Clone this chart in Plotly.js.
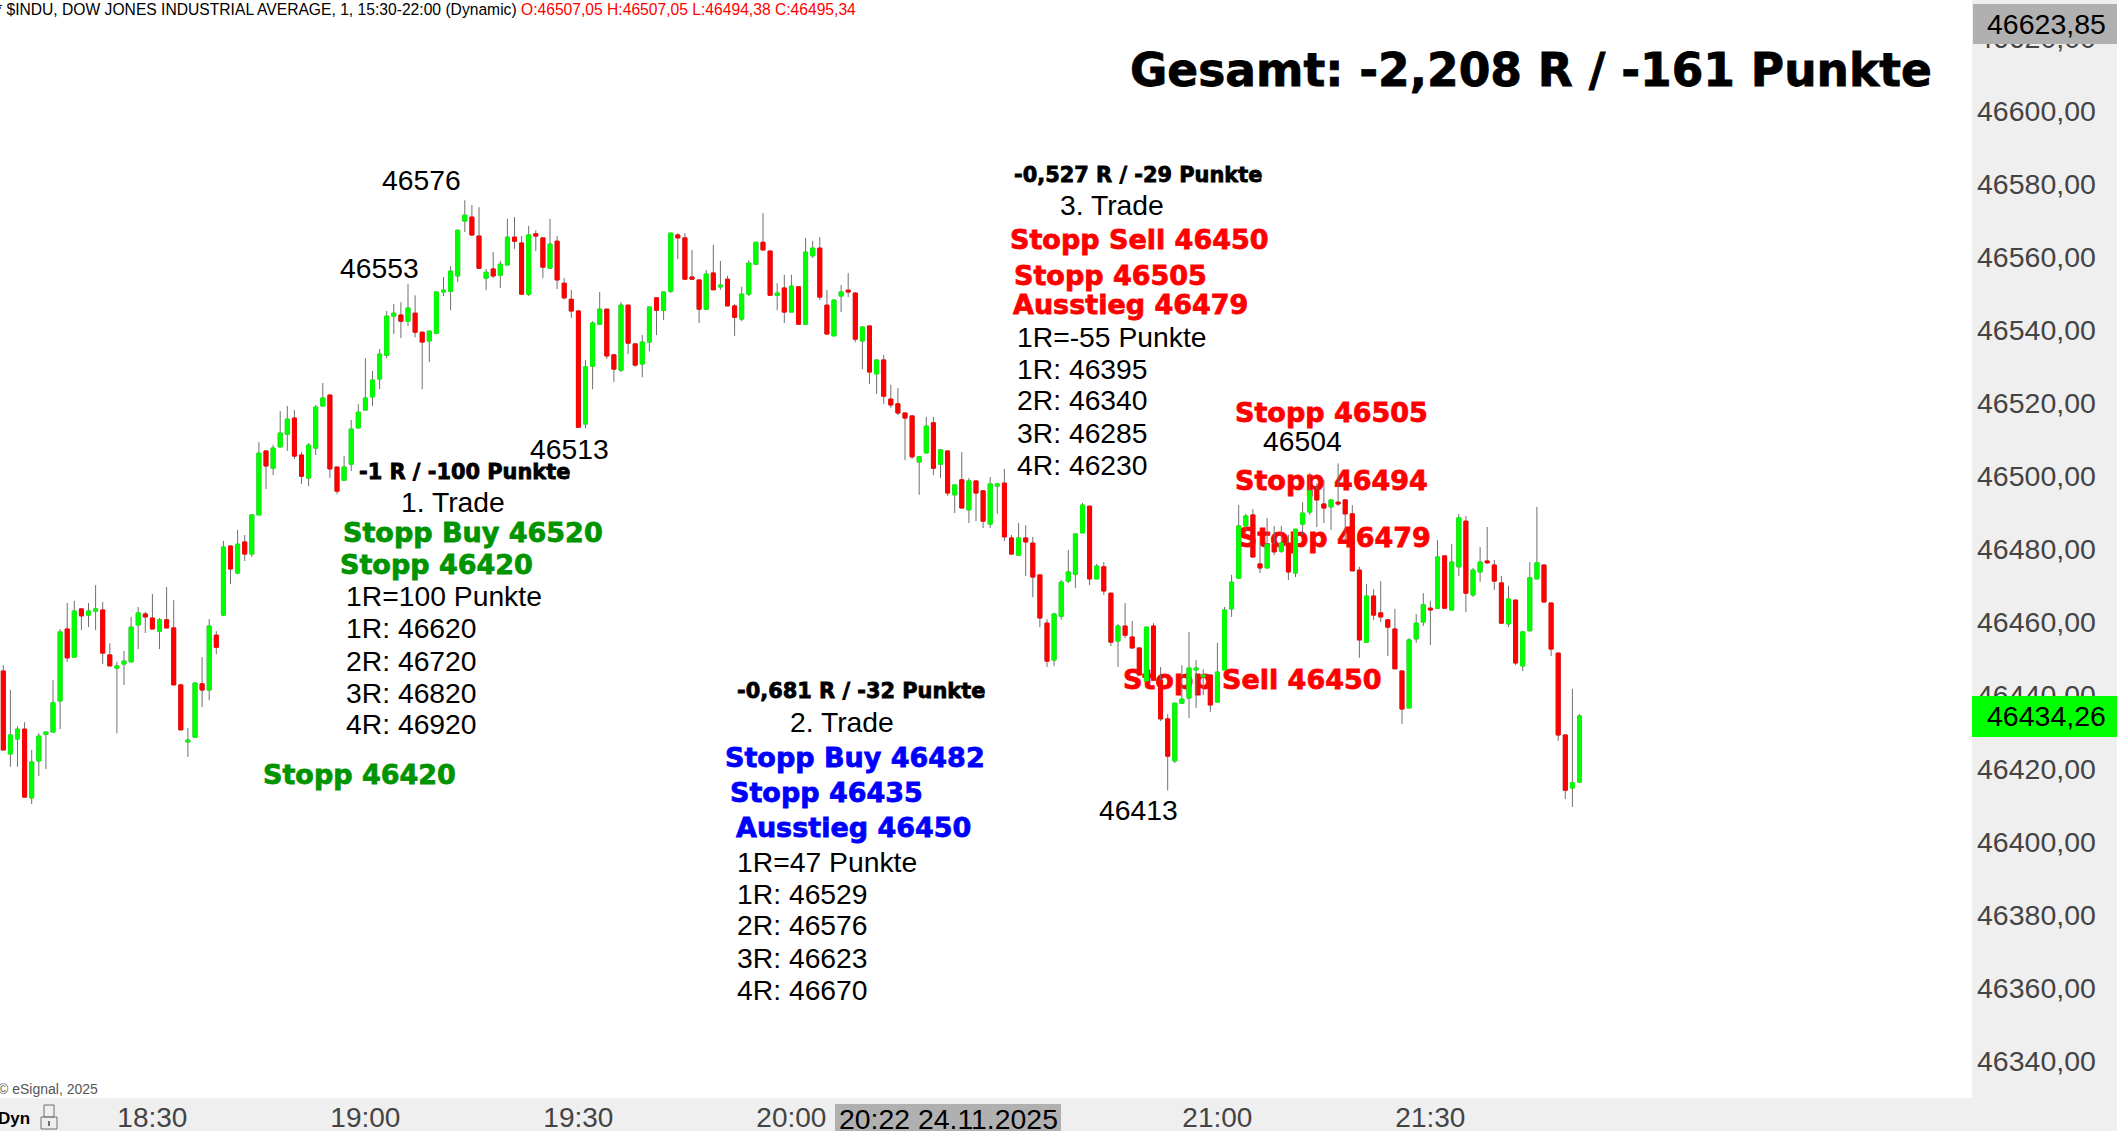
<!DOCTYPE html>
<html><head><meta charset="utf-8">
<script src="https://cdn.plot.ly/plotly-3.0.1.min.js"></script>
<style>html,body{margin:0;padding:0;background:#fff;overflow:hidden}#c{width:2117px;height:1131px}</style>
</head><body><div id="c"></div>
<script>
const opens=[46446.7,46424.0,46428.1,46430.8,46412.0,46422.1,46429.4,46430.0,46438.5,46458.2,46450.5,46463.7,46462.0,46463.1,46463.4,46451.1,46447.5,46448.6,46449.2,46459.3,46462.3,46461.2,46457.6,46460.7,46458.5,46442.9,46427.3,46428.6,46443.2,46441.5,46456.5,46462.0,46480.9,46473.5,46482.0,46478.7,46489.4,46506.9,46502.2,46508.0,46511.5,46515.9,46505.8,46499.5,46507.7,46519.2,46522.2,46502.5,46498.9,46503.3,46513.2,46518.1,46521.7,46526.6,46533.1,46543.8,46544.1,46542.4,46544.6,46539.4,46537.0,46539.1,46550.4,46550.6,46554.8,46569.8,46570.9,46565.7,46554.2,46556.7,46555.0,46557.8,46565.4,46563.8,46549.8,46566.3,46565.2,46556.9,46564.3,46552.8,46548.4,46545.2,46514.3,46530.1,46541.6,46545.7,46533.2,46529.0,46546.8,46536.2,46530.7,46536.7,46548.8,46545.4,46550.6,46566.0,46565.2,46554.5,46553.7,46545.7,46555.6,46551.8,46553.9,46546.6,46543.0,46549.8,46558.0,46564.0,46561.6,46549.5,46551.5,46544.9,46551.8,46541.6,46560.3,46562.4,46546.8,46538.4,46549.3,46550.9,46550.1,46537.0,46541.1,46528.0,46531.8,46521.1,46519.8,46517.3,46516.5,46503.9,46506.4,46514.6,46503.3,46506.9,46494.9,46499.0,46490.8,46498.7,46496.0,46486.9,46497.3,46498.1,46483.1,46478.4,46483.1,46481.7,46473.0,46459.8,46449.7,46461.7,46471.3,46473.2,46484.5,46491.8,46471.9,46475.2,46468.0,46454.9,46459.0,46456.0,46453.0,46444.0,46459.0,46444.2,46433.6,46422.1,46437.9,46439.3,46447.0,46445.1,46445.6,46438.2,46447.0,46463.7,46472.1,46486.4,46489.4,46476.0,46474.9,46481.4,46479.5,46481.7,46473.5,46486.9,46490.2,46496.2,46492.4,46491.6,46492.9,46493.5,46489.7,46474.3,46454.6,46467.2,46462.6,46460.7,46458.2,46446.7,46436.6,46455.5,46460.1,46463.9,46463.9,46478.2,46463.4,46475.2,46487.7,46467.5,46473.8,46476.8,46475.7,46470.8,46459.6,46466.1,46448.1,46457.7,46471.9,46475.7,46465.3,46451.6,46429.2,46414.7,46416.3];
const highs=[46448.3,46441.5,46431.6,46432.7,46425.1,46429.7,46430.0,46444.2,46458.2,46465.3,46465.9,46463.7,46465.3,46470.2,46465.6,46454.3,46449.2,46452.2,46461.5,46464.2,46462.9,46467.8,46461.2,46469.7,46466.1,46443.2,46431.1,46443.7,46450.5,46460.9,46457.6,46482.3,46480.9,46485.3,46483.9,46489.6,46509.3,46506.9,46508.5,46517.8,46519.2,46518.1,46506.6,46509.1,46519.5,46525.5,46522.2,46502.5,46505.5,46515.4,46519.7,46532.3,46528.8,46534.8,46545.2,46547.1,46547.6,46552.6,46549.5,46539.4,46539.7,46550.6,46554.5,46557.5,46567.3,46575.5,46574.2,46573.6,46556.7,46561.3,46558.9,46570.4,46570.9,46565.7,46568.5,46567.3,46565.2,46570.4,46565.7,46554.2,46551.0,46545.4,46531.8,46542.4,46550.4,46545.7,46533.2,46547.7,46546.8,46536.2,46538.6,46546.3,46548.8,46550.4,46566.5,46566.5,46566.5,46561.9,46553.7,46556.4,46563.3,46558.9,46554.8,46547.1,46551.8,46559.1,46564.0,46572.0,46561.6,46552.8,46555.1,46555.1,46552.0,46565.2,46564.4,46565.4,46550.9,46548.2,46552.3,46555.6,46550.4,46541.1,46541.1,46531.8,46533.2,46525.0,46524.1,46517.3,46516.5,46505.3,46516.2,46516.2,46507.2,46506.9,46497.6,46506.6,46499.5,46498.7,46496.0,46499.8,46498.1,46502.0,46483.9,46487.2,46486.6,46483.4,46473.0,46460.9,46462.6,46471.6,46479.8,46484.2,46492.7,46491.8,46476.0,46476.5,46468.0,46459.6,46465.3,46460.4,46453.0,46458.7,46459.8,46447.8,46434.9,46437.9,46448.3,46457.4,46449.7,46447.2,46445.6,46454.4,46464.2,46473.0,46492.1,46489.7,46491.0,46481.7,46488.6,46486.4,46486.4,46484.0,46485.5,46492.9,46500.9,46498.0,46499.0,46493.5,46503.5,46493.8,46492.1,46475.2,46470.5,46469.1,46471.3,46460.7,46463.7,46446.7,46455.7,46462.3,46468.0,46465.9,46482.5,46478.4,46481.5,46489.7,46489.1,46474.9,46480.6,46486.1,46477.1,46472.7,46470.0,46466.1,46457.7,46476.5,46491.6,46475.7,46465.3,46451.6,46429.2,46441.8,46434.9];
const lows=[46425.1,46420.5,46420.5,46412.0,46410.3,46418.0,46419.9,46430.0,46430.8,46449.2,46450.5,46457.9,46458.7,46457.9,46448.6,46448.1,46429.7,46442.9,46449.2,46452.7,46457.1,46458.2,46452.7,46458.5,46442.9,46430.6,46423.2,46428.6,46436.8,46438.7,46451.3,46461.7,46470.5,46473.2,46476.8,46477.9,46489.4,46496.5,46500.3,46508.0,46506.9,46504.7,46497.9,46497.3,46505.8,46519.2,46499.5,46495.1,46498.9,46501.4,46513.2,46518.1,46519.2,46523.8,46532.3,46538.9,46537.8,46541.1,46538.0,46523.8,46531.2,46539.1,46549.3,46545.4,46553.1,46566.8,46565.7,46556.7,46550.9,46554.2,46551.5,46557.8,46562.2,46549.8,46549.3,46561.6,46554.2,46556.7,46551.2,46548.4,46543.3,46513.4,46513.1,46523.8,46541.6,46532.1,46525.8,46528.5,46533.4,46529.9,46527.1,46534.2,46538.6,46542.7,46550.1,46559.4,46553.9,46553.9,46541.9,46545.7,46551.0,46551.0,46546.6,46538.4,46542.4,46549.3,46557.8,46561.9,46549.5,46545.4,46541.9,46544.9,46541.6,46541.6,46559.7,46548.2,46538.9,46538.4,46544.9,46549.0,46536.7,46529.3,46525.2,46522.5,46519.8,46518.7,46516.7,46504.4,46504.7,46494.9,46506.1,46500.3,46499.5,46494.6,46489.9,46491.3,46487.2,46487.7,46485.8,46485.8,46489.7,46482.3,46478.4,46478.4,46472.7,46466.9,46458.7,46447.8,46448.1,46460.7,46470.8,46469.4,46484.5,46470.2,46471.9,46467.5,46453.5,46447.8,46455.7,46453.0,46445.6,46444.0,46444.2,46433.0,46414.0,46421.5,46437.9,46433.8,46436.6,46440.1,46435.5,46438.2,46447.0,46461.5,46472.1,46484.0,46477.9,46473.5,46474.9,46478.4,46479.0,46471.6,46472.4,46483.9,46489.4,46486.1,46487.2,46485.3,46491.9,46482.5,46474.1,46450.3,46454.6,46460.7,46460.1,46450.8,46447.3,46432.2,46436.6,46454.4,46459.0,46453.8,46463.9,46463.9,46463.4,46472.7,46462.8,46467.0,46471.1,46476.0,46468.9,46459.6,46458.7,46448.3,46446.7,46457.7,46471.9,46465.3,46450.8,46427.6,46411.7,46409.5,46416.3];
const closes=[46425.1,46429.2,46430.8,46412.2,46421.8,46428.9,46430.0,46438.0,46457.4,46450.3,46463.1,46461.8,46463.1,46463.7,46451.6,46448.1,46448.1,46449.4,46458.7,46462.6,46461.5,46458.2,46460.7,46458.5,46442.9,46430.6,46427.8,46443.4,46441.5,46459.0,46453.2,46480.6,46474.6,46481.4,46478.7,46489.4,46506.3,46502.8,46507.7,46511.8,46515.6,46505.5,46500.0,46508.5,46518.9,46521.4,46502.0,46495.9,46502.5,46512.9,46517.5,46521.4,46526.3,46533.4,46543.8,46544.6,46542.4,46546.0,46539.4,46536.7,46539.7,46550.4,46550.9,46556.1,46567.3,46571.4,46566.0,46556.9,46555.8,46554.8,46558.0,46565.4,46564.3,46549.8,46566.0,46565.7,46557.2,46563.5,46553.7,46548.8,46545.2,46513.4,46529.9,46541.9,46545.7,46532.9,46529.3,46546.8,46536.4,46530.4,46536.7,46546.3,46545.4,46550.4,46566.5,46565.2,46553.9,46553.9,46545.7,46555.3,46551.0,46552.3,46546.6,46543.5,46549.8,46558.3,46564.0,46561.9,46549.5,46550.1,46544.9,46552.0,46541.6,46561.3,46562.4,46549.0,46538.9,46548.2,46550.4,46550.4,46537.5,46540.8,46528.5,46531.8,46521.9,46519.5,46517.3,46515.9,46505.3,46505.3,46513.7,46502.2,46507.2,46495.4,46497.6,46491.3,46498.7,46495.4,46487.7,46497.9,46497.9,46483.4,46478.7,46483.1,46482.0,46472.4,46461.2,46449.4,46462.3,46471.0,46473.8,46484.2,46492.1,46471.9,46475.4,46468.6,46454.6,46459.0,46456.5,46453.0,46445.6,46458.7,46444.2,46433.6,46423.4,46437.9,46439.0,46447.5,46447.5,46445.6,46437.4,46446.4,46463.4,46471.0,46486.4,46489.1,46477.9,46474.9,46481.4,46479.3,46481.7,46473.8,46485.5,46489.9,46496.0,46493.5,46491.3,46493.5,46492.4,46489.7,46474.1,46455.2,46467.2,46462.0,46461.5,46458.7,46447.3,46436.3,46455.2,46459.8,46464.8,46463.4,46477.9,46463.9,46476.5,46488.6,46468.0,46474.3,46476.5,46476.3,46471.3,46459.8,46466.4,46448.9,46457.4,46472.2,46476.3,46465.6,46452.7,46429.2,46414.1,46416.1,46434.4];
const timeTicks=['18:30','19:00','19:30','20:00','20:30','21:00','21:30'];
const priceTicks=[46340,46360,46380,46400,46420,46440,46460,46480,46500,46520,46540,46560,46580,46600,46620];

const labelTexts=['46576','46553','46513','46504','46413',
 '-1 R / -100 Punkte','1. Trade','Stopp Buy 46520','Stopp 46420','1R=100 Punkte','1R: 46620','2R: 46720','3R: 46820','4R: 46920','Stopp 46420',
 '-0,681 R / -32 Punkte','2. Trade','Stopp Buy 46482','Stopp 46435','Ausstieg 46450','1R=47 Punkte','1R: 46529','2R: 46576','3R: 46623','4R: 46670',
 '-0,527 R / -29 Punkte','3. Trade','Stopp Sell 46450','Stopp 46505','Ausstieg 46479','1R=-55 Punkte','1R: 46395','2R: 46340','3R: 46285','4R: 46230',
 'Stopp 46505','Stopp 46494','Stopp 46479','Stopp Sell 46450'];
const labelPx=[[382,183],[340,271],[530,452],[1263,444],[1099,813],
 [359,474],[401,505],[343,535],[340,567],[346,599],[346,631],[346,664],[346,696],[346,727],[263,777],
 [737,693],[790,725],[725,760],[730,795],[736,830],[737,865],[737,897],[737,928],[737,961],[737,993],
 [1014,177],[1060,208],[1010,242],[1014,278],[1013,307],[1017,340],[1017,372],[1017,403],[1017,436],[1017,468],
 [1235,415],[1235,483],[1238,540],[1123,682]];
const labelStyle=['n','n','n','n','n',
 's','n','g','g','n','n','n','n','n','g',
 's','n','b','b','b','n','n','n','n','n',
 's','n','r','r','r','n','n','n','n','n',
 'r','r','r','r'];
const plotW=1972, plotH=1098;
const styleMap={
 n:{family:'Liberation Sans',size:28.3,color:'#000',weight:'normal'},
 s:{family:'DejaVu Sans',size:20.9,color:'#000',weight:'bold'},
 g:{family:'DejaVu Sans',size:27,color:'#009400',weight:'bold'},
 b:{family:'DejaVu Sans',size:27,color:'#0000ff',weight:'bold'},
 r:{family:'DejaVu Sans',size:27,color:'#ff0000',weight:'bold'}};

const t0=Date.UTC(2025,10,24,18,9);
const hm=s=>{const p=s.split(':');return Date.UTC(2025,10,24,+p[0],+p[1]);};
const times=opens.map((_,i)=>t0+i*60000);
const pxToTime=px=>t0+(px-3.3)/7.1*60000;
const pyToPrice=py=>46600-(py-110.7)/3.655;
const yRange=[pyToPrice(plotH),pyToPrice(0)];
const xRange=[pxToTime(0),pxToTime(plotW)];
const xp=px=>px/plotW, yp=py=>1-py/plotH;

const fam=k=>labelStyle.map(s=>styleMap[s][k]);
const textTrace={type:'scatter',mode:'text',xaxis:'x',yaxis:'y',cliponaxis:false,hoverinfo:'skip',
 x:labelPx.map(p=>pxToTime(p[0])),y:labelPx.map(p=>pyToPrice(p[1])),text:labelTexts,textposition:'middle right',
 textfont:{family:fam('family'),size:fam('size'),color:fam('color'),weight:fam('weight')}};
const wickTrace={type:'candlestick',xaxis:'x',yaxis:'y2',x:times,open:opens,high:highs,low:lows,close:closes,whiskerwidth:0,hoverinfo:'skip',
 increasing:{line:{color:'#707070',width:1},fillcolor:'#707070'},decreasing:{line:{color:'#707070',width:1},fillcolor:'#707070'}};
const bodyTrace={type:'candlestick',xaxis:'x',yaxis:'y2',x:times,open:opens,close:closes,
 high:opens.map((o,i)=>Math.max(o,closes[i])),low:opens.map((o,i)=>Math.min(o,closes[i])),whiskerwidth:0,hoverinfo:'skip',
 increasing:{line:{color:'#00ff00',width:1},fillcolor:'#00ff00'},decreasing:{line:{color:'#ff0000',width:1},fillcolor:'#ff0000'}};

const note=(px,py,text,o)=>Object.assign({xref:'paper',yref:'paper',x:xp(px),y:yp(py),text,showarrow:false,xanchor:'left',yanchor:'middle',borderpad:0,font:{family:'Liberation Sans',size:28,color:'#000'}},o||{});
const annotations=[
 note(1129,70,'Gesamt: -2,208 R / -161 Punkte',{font:{family:'DejaVu Sans',size:45.5,color:'#000',weight:'bold'}}),
 note(-5,9,'* $INDU, DOW JONES INDUSTRIAL AVERAGE, 1, 15:30-22:00 (Dynamic) <span style="color:#ff0000">O:46507,05 H:46507,05 L:46494,38 C:46495,34</span>',{font:{family:'Liberation Sans',size:15.65,color:'#000'}}),
 note(-3,1089,'© eSignal, 2025',{font:{family:'Liberation Sans',size:14,color:'#555'}}),
 note(-3,1118,'Dyn',{font:{family:'Liberation Sans',size:17,color:'#000',weight:'bold'}}),
 note(1986,24,'46623,85',{font:{family:'Liberation Sans',size:28.5,color:'#000'}}),
 note(1986,716,'46434,26',{font:{family:'Liberation Sans',size:28.5,color:'#000'}}),
 note(948,1119,'20:22 24.11.2025',{xanchor:'center',font:{family:'Liberation Sans',size:28.4,color:'#000'}})
];
const rect=(x0,y0,x1,y1,fill,line)=>({type:'rect',xref:'paper',yref:'paper',x0:xp(x0),y0:yp(y0),x1:xp(x1),y1:yp(y1),fillcolor:fill,line:{width:line?1:0,color:line||fill},layer:'above'});
const shapes=[
 rect(1973,4,2117,44,'#b0b0b0'),
 rect(1972,696,2117,737,'#00ff00'),
 rect(835,1104,1061,1131,'#b0b0b0'),
 rect(41,1117,57,1129,'rgba(0,0,0,0)','#707070'),
 rect(44,1105,54,1117,'rgba(0,0,0,0)','#707070'),
 rect(48,1121,50,1126,'#707070')
];
const layout={width:2117,height:1131,margin:{l:0,r:2117-plotW,t:0,b:1131-plotH,pad:0},
 paper_bgcolor:'#efefef',plot_bgcolor:'#ffffff',showlegend:false,separators:', ',boxgap:0.44,boxgroupgap:0,boxmode:'overlay',
 xaxis:{type:'date',range:xRange,rangeslider:{visible:false},showgrid:false,zeroline:false,showline:false,ticks:'',
  tickmode:'array',tickvals:timeTicks.map(hm),ticktext:timeTicks,tickangle:0,tickfont:{family:'Liberation Sans',size:28,color:'#444'}},
 yaxis:{range:yRange,side:'right',showgrid:false,zeroline:false,showline:false,ticks:'',tickmode:'array',tickvals:priceTicks,ticklabelstandoff:4,
  tickformat:'.2f',tickfont:{family:'Liberation Sans',size:28.5,color:'#444'}},
 yaxis2:{range:yRange,overlaying:'y',side:'right',visible:false},
 annotations,shapes};
Plotly.newPlot('c',[textTrace,wickTrace,bodyTrace],layout,{staticPlot:true,displayModeBar:false}).then(()=>{
 // heavier strokes so the bold labels read like the reference's black-weight type
 document.querySelectorAll('#c .textpoint text, #c .annotation-text').forEach(t=>{
  if((t.style.fontFamily||'').indexOf('DejaVu')>=0){t.style.stroke=t.style.fill;t.style.strokeWidth='0.8px';}
 });
});
</script></body></html>
